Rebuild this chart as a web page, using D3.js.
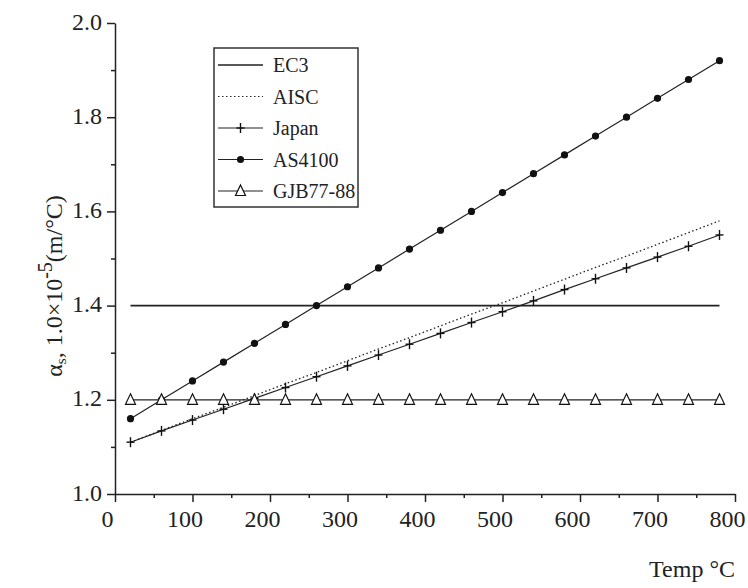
<!DOCTYPE html>
<html>
<head>
<title>alpha_chart</title>
<script src="https://d3js.org/d3.v7.min.js"></script>
<style>
  body {margin:0; background:#fff;}
  svg text {font-family:"Liberation Serif","Times New Roman",serif; fill:#222;}
  .axis path, .axis line {stroke:#222; stroke-width:1.5;}
  .axis text {font-size:24px; font-family:"Liberation Serif","Times New Roman",serif; fill:#222;}
</style>
</head>
<body>
<script>
// temperatures (deg C) where the curves are sampled
const temps = [20, 60, 100, 140, 180, 220, 260, 300, 340, 380, 420, 460, 500, 540, 580, 620, 660, 700, 740, 780];
const ec3Temps = [20, 780];
const ec3 = [1.40, 1.40];
const aisc = [1.11, 1.135, 1.16, 1.184, 1.209, 1.234, 1.258, 1.283, 1.308, 1.332, 1.357, 1.382, 1.406, 1.431, 1.456, 1.481, 1.505, 1.53, 1.555, 1.58];
const japan = [1.11, 1.134, 1.157, 1.18, 1.203, 1.226, 1.249, 1.272, 1.295, 1.318, 1.341, 1.364, 1.387, 1.41, 1.434, 1.457, 1.48, 1.503, 1.526, 1.55];
const as4100 = [1.16, 1.20, 1.24, 1.28, 1.32, 1.36, 1.40, 1.44, 1.48, 1.52, 1.56, 1.60, 1.64, 1.68, 1.72, 1.76, 1.80, 1.84, 1.88, 1.92];
const gjb = [1.20, 1.20, 1.20, 1.20, 1.20, 1.20, 1.20, 1.20, 1.20, 1.20, 1.20, 1.20, 1.20, 1.20, 1.20, 1.20, 1.20, 1.20, 1.20, 1.20];
const seriesNames = ['EC3', 'AISC', 'Japan', 'AS4100', 'GJB77-88'];
const xTicks = [0, 100, 200, 300, 400, 500, 600, 700, 800];
const yTicks = [1.0, 1.2, 1.4, 1.6, 1.8, 2.0];

const width = 748, height = 588;
const margin = {top: 23, left: 115, bottom: 94, right: 13};

const svg = d3.select('body').append('svg').attr('width', width).attr('height', height);

const x = d3.scaleLinear().domain([0, 800]).range([margin.left, width - margin.right]);
const y = d3.scaleLinear().domain([1.0, 2.0]).range([height - margin.bottom, margin.top]);

// minor ticks
svg.append('g').attr('class', 'axis')
  .attr('transform', `translate(0, ${y(1.0)})`)
  .call(d3.axisBottom(x).tickValues(d3.range(50, 800, 100)).tickSize(4).tickFormat(''))
  .call(g => g.select('.domain').remove());
svg.append('g').attr('class', 'axis')
  .attr('transform', `translate(${x(0)}, 0)`)
  .call(d3.axisLeft(y).tickValues([1.1, 1.3, 1.5, 1.7, 1.9]).tickSize(4).tickFormat(''))
  .call(g => g.select('.domain').remove());

// major axes
const xAxis = svg.append('g').attr('class', 'axis')
  .attr('transform', `translate(0, ${y(1.0)})`)
  .call(d3.axisBottom(x).tickValues(xTicks).tickSize(8).tickSizeOuter(0).tickPadding(8).tickFormat(d3.format('d')));
xAxis.selectAll('text').attr('dx', -8);

svg.append('g').attr('class', 'axis')
  .attr('transform', `translate(${x(0)}, 0)`)
  .call(d3.axisLeft(y).tickValues(yTicks).tickSize(8).tickSizeOuter(0).tickPadding(5).tickFormat(d3.format('.1f')))
  .selectAll('text').attr('dy', '0.25em');

// axis titles
svg.append('text')
  .attr('x', x(800)).attr('y', 577)
  .attr('text-anchor', 'end').style('font-size', '24px')
  .text('Temp °C');

const yl = svg.append('text')
  .attr('transform', 'translate(62, 286) rotate(-90)')
  .attr('text-anchor', 'middle').style('font-size', '24px');
yl.append('tspan').text('α');
yl.append('tspan').attr('dy', 4).style('font-size', '15px').text('s');
yl.append('tspan').attr('dy', -4).text(', 1.0×10');
yl.append('tspan').attr('dy', -10).style('font-size', '20px').text('-5');
yl.append('tspan').attr('dy', 10).text('(m/°C)');

// lines
const line = d3.line().x(d => x(d[0])).y(d => y(d[1]));
const pts = vals => temps.map((t, i) => [t, vals[i]]);

const plot = svg.append('g');
plot.append('path').datum(ec3Temps.map((t, i) => [t, ec3[i]]))
  .attr('d', line).attr('fill', 'none').attr('stroke', '#222').attr('stroke-width', 1.6);
plot.append('path').datum(pts(aisc))
  .attr('d', line).attr('fill', 'none').attr('stroke', '#222').attr('stroke-width', 1.3).attr('stroke-dasharray', '1.5,2.5');
plot.append('path').datum(pts(japan))
  .attr('d', line).attr('fill', 'none').attr('stroke', '#222').attr('stroke-width', 1.2);
plot.append('path').datum(pts(as4100))
  .attr('d', line).attr('fill', 'none').attr('stroke', '#222').attr('stroke-width', 1.2);
plot.append('path').datum(pts(gjb))
  .attr('d', line).attr('fill', 'none').attr('stroke', '#222').attr('stroke-width', 1.2);

// markers
function plusMark(g) {
  g.append('line').attr('x1', -4).attr('x2', 4).attr('y1', 0).attr('y2', 0).attr('stroke', '#111').attr('stroke-width', 1.4);
  g.append('line').attr('x1', 0).attr('x2', 0).attr('y1', -5).attr('y2', 5).attr('stroke', '#111').attr('stroke-width', 1.4);
}
function dotMark(g) {
  g.append('circle').attr('r', 3.6).attr('fill', '#111');
}
function triMark(g) {
  g.append('path').attr('d', 'M0,-6L5,4.5L-5,4.5Z').attr('fill', '#fff').attr('stroke', '#111').attr('stroke-width', 1.2);
}

plot.selectAll('.jp').data(pts(japan)).enter().append('g')
  .attr('transform', d => `translate(${x(d[0])},${y(d[1])})`).each(function() { plusMark(d3.select(this)); });
plot.selectAll('.as').data(pts(as4100)).enter().append('g')
  .attr('transform', d => `translate(${x(d[0])},${y(d[1])})`).each(function() { dotMark(d3.select(this)); });
plot.selectAll('.gj').data(pts(gjb)).enter().append('g')
  .attr('transform', d => `translate(${x(d[0])},${y(d[1])})`).each(function() { triMark(d3.select(this)); });

// legend
const legend = svg.append('g');
legend.append('rect').attr('x', 214).attr('y', 48).attr('width', 144).attr('height', 159)
  .attr('fill', '#fff').attr('stroke', '#333').attr('stroke-width', 1.5);
const rowY = [65, 96.5, 128, 159.5, 191];
const marks = [null, null, plusMark, dotMark, triMark];
seriesNames.forEach((name, i) => {
  const row = legend.append('g').attr('transform', `translate(0, ${rowY[i]})`);
  row.append('line').attr('x1', 218).attr('x2', 263).attr('y1', 0).attr('y2', 0)
    .attr('stroke', '#222').attr('stroke-width', i === 0 ? 1.6 : 1.2)
    .attr('stroke-dasharray', i === 1 ? '1.5,2.5' : null);
  if (marks[i]) marks[i](row.append('g').attr('transform', 'translate(240.5,0)'));
  row.append('text').attr('x', 273).attr('dy', '0.35em').style('font-size', '20px').text(name);
});
</script>
</body>
</html>
